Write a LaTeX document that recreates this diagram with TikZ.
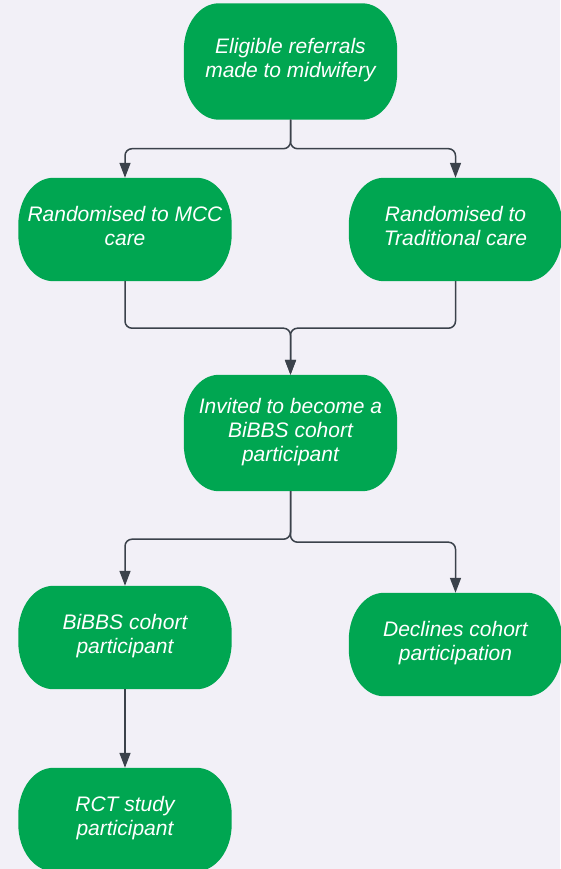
\documentclass[tikz,border=0pt]{standalone}
\usepackage{fontspec}
\setmainfont{Liberation Sans}
\usetikzlibrary{arrows.meta,calc}
\definecolor{bgc}{HTML}{F2F0F7}
\definecolor{boxgreen}{HTML}{00A651}
\definecolor{linec}{HTML}{3B424B}
\pgfdeclarelayer{bgl}
\pgfdeclarelayer{shapes}
\pgfsetlayers{bgl,shapes,main}
\newcommand\greenbox[1]{%
  \fill[boxgreen] ([xshift=35pt]#1.north west) -- ([xshift=-35pt]#1.north east)
    arc[start angle=90,end angle=0,x radius=35pt,y radius=47pt]
    -- ([yshift=47pt]#1.south east)
    arc[start angle=0,end angle=-90,x radius=35pt,y radius=47pt]
    -- ([xshift=35pt]#1.south west)
    arc[start angle=270,end angle=180,x radius=35pt,y radius=47pt]
    -- ([yshift=-47pt]#1.north west)
    arc[start angle=180,end angle=90,x radius=35pt,y radius=47pt] -- cycle;}
\begin{document}
\begin{tikzpicture}[x=1pt,y=-1pt,
  box/.style={minimum width=213pt, inner sep=0pt, text=white,
    font=\fontsize{21}{24}\selectfont\itshape, align=center, text depth=7pt},
  tall/.style={box, minimum height=116pt},
  short/.style={box, minimum height=103pt},
  conn/.style={draw=linec, line width=1.5pt, rounded corners=7pt,
    -{Triangle[length=15pt,width=11pt]}}]
\useasboundingbox (0,0) rectangle (560,869);
\begin{pgfonlayer}{bgl}
  \fill[bgc] (0,0) rectangle (560,869);
\end{pgfonlayer}

\node[tall]  (n1) at (290.5,61.5)  {Eligible referrals\\made to midwifery};
\node[short] (n2) at (125,229.5)   {Randomised to MCC\\care};
\node[short] (n3) at (455.5,229.5) {Randomised to\\Traditional care};
\node[tall]  (n4) at (290.5,433)   {Invited to become a\\BiBBS cohort\\participant};
\node[short] (n5) at (125,637.5)   {BiBBS cohort\\participant};
\node[short] (n6) at (455.5,644.5) {Declines cohort\\participation};
\node[short] (n7) at (125,819.5)   {RCT study\\participant};

\begin{pgfonlayer}{shapes}
  \foreach \n in {n1,n2,n3,n4,n5,n6,n7} {\greenbox{\n}}
\end{pgfonlayer}

\draw[conn] (n1.south) -- ++(0,29) -| (n2.north);
\draw[conn] (n1.south) -- ++(0,29) -| (n3.north);
\draw[conn] (n2.south) -- ++(0,47) -| (n4.north);
\draw[conn] (n3.south) -- ++(0,47) -| (n4.north);
\draw[conn] (n4.south) -- ++(0,48) -| (n5.north);
\draw[conn] (n4.south) -- ++(0,51) -| (n6.north);
\draw[conn] (n5.south) -- (n7.north);
\end{tikzpicture}
\end{document}
